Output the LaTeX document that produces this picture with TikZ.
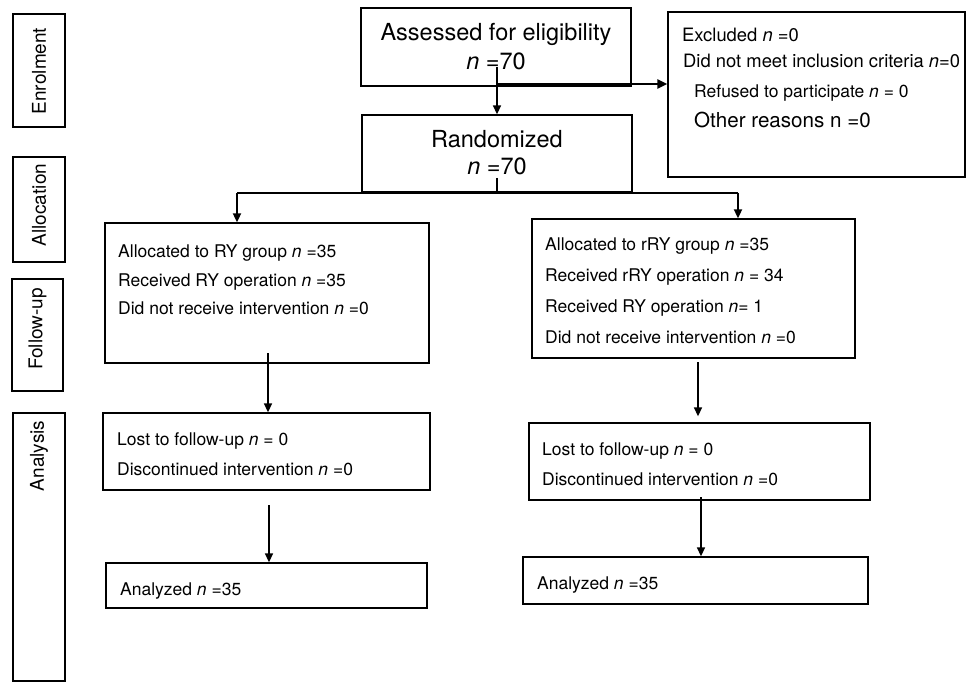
\documentclass[tikz,border=0pt]{standalone}
\usepackage{fontspec}
\setmainfont{TeX Gyre Heros}
\usetikzlibrary{arrows.meta,calc}
\begin{document}
\begin{tikzpicture}[x=1pt,y=-1pt,
  box/.style={draw, line width=1.3pt, inner sep=0pt, rectangle},
  txt/.style={anchor=base west, inner sep=0pt, font=\fontsize{17.5}{20}\selectfont},
  txtb/.style={anchor=base west, inner sep=0pt, font=\fontsize{18.4}{21}\selectfont},
  txtc/.style={anchor=base west, inner sep=0pt, font=\fontsize{20.6}{23}\selectfont},
  big/.style={anchor=base, inner sep=0pt, font=\fontsize{23.5}{26}\selectfont},
  lab/.style={rotate=90, inner sep=0pt, font=\fontsize{19}{22}\selectfont},
  arr/.style={line width=1.5pt, -{Triangle[length=9pt,width=8pt]}},
  arrthick/.style={line width=2.4pt, -{Triangle[length=10pt,width=9pt]}},
  thin/.style={line width=1.5pt}]
\useasboundingbox (0,0) rectangle (967,682);

% side labels
\node[box, minimum width=52pt, minimum height=113pt] (enrolbox) at (39,70.5) {};
\node[lab] (enrol) at (39,71) {Enrolment};
\node[box, minimum width=52pt, minimum height=105pt] (allocbox) at (39,209.5) {};
\node[lab] (alloclab) at (39,205) {Allocation};
\node[box, minimum width=51pt, minimum height=112pt] (followbox) at (37.5,335) {};
\node[lab] (followlab) at (37.5,329) {Follow-up};
\node[box, minimum width=52pt, minimum height=268pt] (analysisbox) at (39,547) {};
\node[lab] (analysislab) at (39,456) {Analysis};

% top boxes
\node[box, minimum width=270pt, minimum height=78pt] (assessed) at (496,47) {};
\node[big] (assessedt) at (496,41) {Assessed for eligibility};
\node[big] (assessedn) at (496,70) {\textit{n} =70};

\node[box, minimum width=270pt, minimum height=77pt] (rand) at (497,153.5) {};
\node[big] (randt) at (497,148) {Randomized};
\node[big] (randn) at (497,175) {\textit{n} =70};

\node[box, minimum width=297pt, minimum height=165pt] (excl) at (816.5,94.5) {};
\node[txtb] (ex1) at (682,42) {Excluded \textit{n} =0};
\node[txtb] (ex2) at (683,68) {Did not meet inclusion criteria \textit{n}=0};
\node[txt] (ex3) at (694,98) {Refused to participate \textit{n} = 0};
\node[txtc] (ex4) at (694,128) {Other reasons n =0};

% allocation boxes
\node[box, minimum width=324pt, minimum height=140pt] (allocL) at (267,293) {};
\node[txt] (al1) at (118,257) {Allocated to RY group \textit{n} =35};
\node[txt] (al2) at (118,286) {Received RY operation \textit{n} =35};
\node[txt] (al3) at (118,314) {Did not receive intervention \textit{n} =0};

\node[box, minimum width=323pt, minimum height=139pt] (allocR) at (693.5,288.5) {};
\node[txt] (ar1) at (545,250) {Allocated to rRY group \textit{n} =35};
\node[txt] (ar2) at (545,281) {Received rRY operation \textit{n} = 34};
\node[txt] (ar3) at (545,312) {Received RY operation \textit{n}= 1};
\node[txt] (ar4) at (545,343) {Did not receive intervention \textit{n} =0};

% follow-up boxes
\node[box, minimum width=327pt, minimum height=77pt] (followL) at (266.5,451.5) {};
\node[txt] (fl1) at (117,445) {Lost to follow-up \textit{n} = 0};
\node[txt] (fl2) at (117,475) {Discontinued intervention \textit{n} =0};

\node[box, minimum width=341pt, minimum height=77pt] (followR) at (699.5,461.5) {};
\node[txt] (fr1) at (542,455) {Lost to follow-up \textit{n} = 0};
\node[txt] (fr2) at (542,485) {Discontinued intervention \textit{n} =0};

% analysis boxes
\node[box, minimum width=321pt, minimum height=45pt] (anL) at (266.5,585.5) {};
\node[txt] (anl1) at (120,595) {Analyzed \textit{n} =35};
\node[box, minimum width=345pt, minimum height=47pt] (anR) at (695.5,580.5) {};
\node[txt] (anr1) at (537,589) {Analyzed \textit{n} =35};

% connectors
\coordinate (s1) at (497,67);
\coordinate (s2) at (497,84);
\draw[arr] (s1) -- (s1 |- rand.north);
\draw[arrthick] (s2) -- (s2 -| excl.west);

\coordinate (r1) at (497,178);
\coordinate (split) at (497,193);
\coordinate (bl) at (237,193);
\coordinate (br) at (738,193);
\draw[thin] (r1) -- (split);
\draw[line width=2.4pt] (bl) -- (br);
\draw[line width=1.8pt, -{Triangle[length=9pt,width=8pt]}] (bl) -- (bl |- allocL.north);
\draw[line width=1.8pt, -{Triangle[length=9pt,width=8pt]}] (br) -- (br |- allocR.north);

\coordinate (fL) at (268,353);
\draw[arr] (fL) -- (fL |- followL.north);
\coordinate (fR) at (698,362);
\draw[arr, shorten >=6pt] (fR) -- (fR |- followR.north);
\coordinate (aL) at (269,505);
\draw[arr] (aL) -- (aL |- anL.north);
\coordinate (aR) at (701,497);
\draw[arr] (aR) -- (aR |- anR.north);
\end{tikzpicture}
\end{document}
